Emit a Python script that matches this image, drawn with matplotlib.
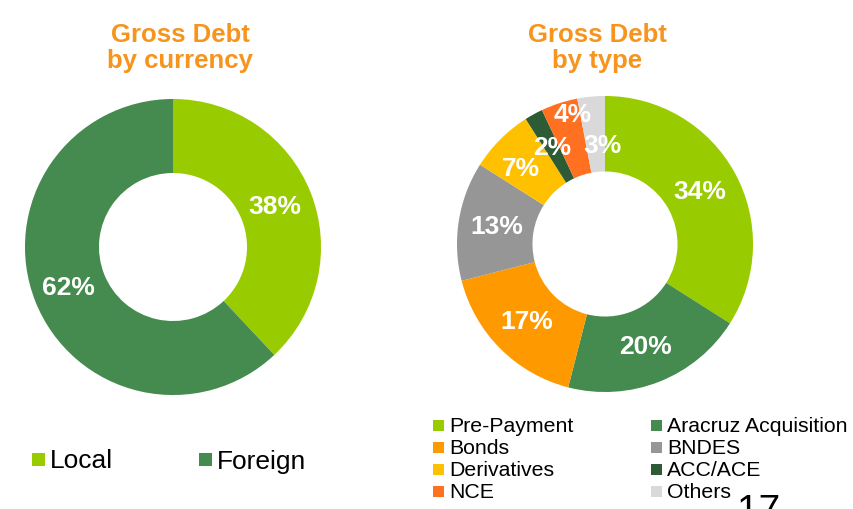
import numpy as np
import matplotlib
matplotlib.use("Agg")
import matplotlib.pyplot as plt
from matplotlib.patches import Rectangle

plt.rcParams['font.family'] = ['Liberation Sans', 'DejaVu Sans']

# data
currency_labels = ['Local', 'Foreign']
currency_values = [38, 62]
currency_colors = ['#99CC00', '#458B4F']

type_labels = ['Pre-Payment', 'Aracruz Acquisition', 'Bonds', 'BNDES',
               'Derivatives', 'ACC/ACE', 'NCE', 'Others']
type_values = [34, 20, 17, 13, 7, 2, 4, 3]
type_colors = ['#99CC00', '#458B4F', '#FF9900', '#969696',
               '#FFC000', '#2D5B35', '#FF7021', '#D9D9D9']

W, H = 854, 509
fig = plt.figure(figsize=(W / 100, H / 100), dpi=100)
title_color = '#F7941D'


def px_axes(cx, cy, r):
    # square axes centred on a pixel position (y from top)
    return fig.add_axes([(cx - r) / W, (H - cy - r) / H, 2 * r / W, 2 * r / H])


def donut(ax, values, colors, hole, label_r, label_da):
    wedges, _ = ax.pie(values, colors=colors, startangle=90, counterclock=False,
                       radius=1, wedgeprops=dict(width=1 - hole, linewidth=0))
    for w, v, lr, da in zip(wedges, values, label_r, label_da):
        ang = np.deg2rad((w.theta1 + w.theta2) / 2 + da)
        ax.text(lr * np.cos(ang), lr * np.sin(ang), f'{v}%', color='white',
                fontsize=19, fontweight='bold', ha='center', va='center')
    ax.set_xlim(-1.01, 1.01)
    ax.set_ylim(-1.01, 1.01)
    ax.set_aspect('equal')
    ax.axis('off')


ax1 = px_axes(173, 247, 149.5)
donut(ax1, currency_values, currency_colors, 0.5, [0.74, 0.76], [0, 0])

ax2 = px_axes(605, 244, 149.5)
donut(ax2, type_values, type_colors, 0.49,
      [0.73, 0.75, 0.75, 0.74, 0.76, 0.74, 0.9, 0.66],
      [0, 0, 0, 0, 3, 0, -4, -4])

# titles
fig.text(180 / W, 1 - 48 / H, 'Gross Debt\nby currency', ha='center', va='center',
         fontsize=18.5, fontweight='bold', color=title_color, linespacing=1.15)
fig.text(597 / W, 1 - 48 / H, 'Gross Debt\nby type', ha='center', va='center',
         fontsize=18.5, fontweight='bold', color=title_color, linespacing=1.15)


def legend_item(x, y, s, label, color, fs):
    fig.add_artist(Rectangle((x / W, 1 - (y + s / 2) / H), s / W, s / H,
                             facecolor=color, edgecolor='none', transform=fig.transFigure))
    fig.text((x + s + 5) / W, 1 - y / H, label, ha='left', va='center_baseline',
             fontsize=fs, color='black')


# left legend
legend_item(32, 459, 13, currency_labels[0], currency_colors[0], 19)
legend_item(199, 459, 13, currency_labels[1], currency_colors[1], 19)

# right legend, two columns
rows = [425, 447, 469, 491]
for i, (lab, col) in enumerate(zip(type_labels, type_colors)):
    x = 433 if i % 2 == 0 else 651
    legend_item(x, rows[i // 2], 11, lab, col, 15.3)

# page number, cut off at the bottom as on the slide
fig.text(737 / W, 1 - 494 / H, '17', ha='left', va='top', fontsize=28, color='black')

fig.savefig('out.png', dpi=100)
